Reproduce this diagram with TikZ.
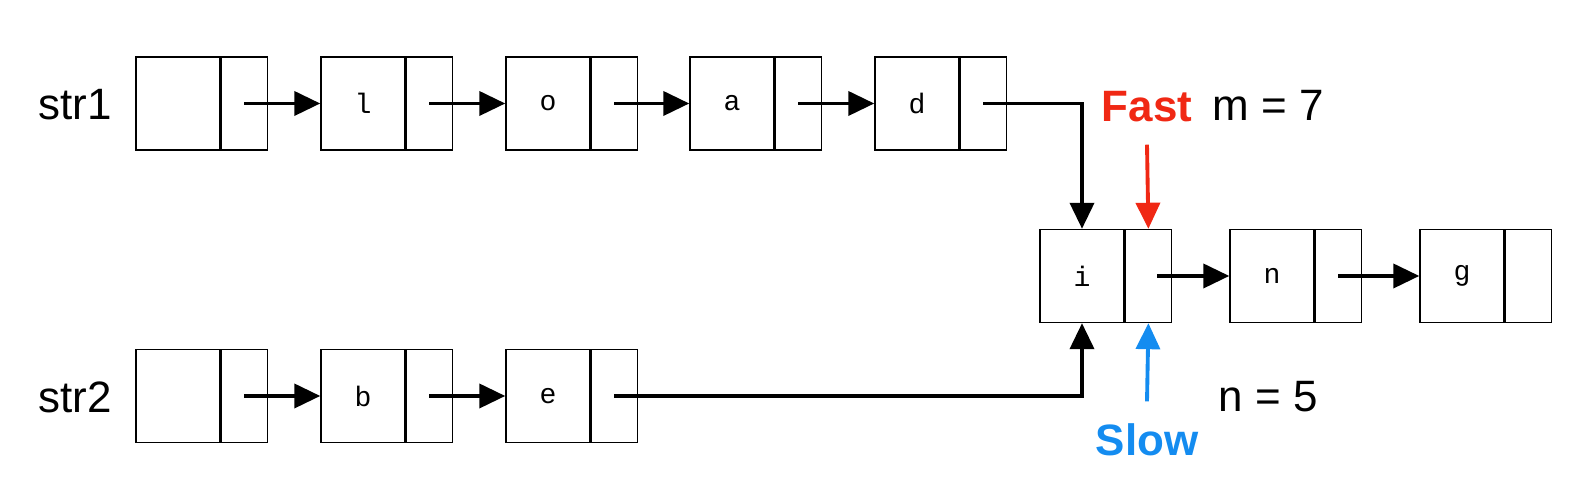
\documentclass[tikz,border=0pt]{standalone}
\usepackage{fontspec}
\setmainfont{Liberation Sans}
\setmonofont{Liberation Mono}
\usetikzlibrary{arrows.meta,positioning}
\definecolor{fastred}{RGB}{240,40,20}
\definecolor{slowblue}{RGB}{20,140,240}
\tikzset{
  data/.style={draw,line width=0.4pt,minimum width=0.84cm,minimum height=0.93cm,inner sep=0pt,font=\ttfamily\fontsize{8}{10}\selectfont},
  ptr/.style={draw,line width=0.4pt,minimum width=0.46cm,minimum height=0.93cm,inner sep=0pt},
  link/.style={line width=1.1pt,-{Triangle[length=2.6mm,width=2.4mm]}},
  lbl/.style={font=\fontsize{12.5}{15}\selectfont}
}
\begin{document}
\begin{tikzpicture}
\useasboundingbox (0,0) rectangle (15.73,4.89);
% first list
\node [data] (h1) at (1.78,3.855) {};
\node [ptr,right=0pt of h1] (h1p) {};
\node [data] (l) at (3.63,3.855) {l};
\node [ptr,right=0pt of l] (lp) {};
\node [data] (o) at (5.48,3.855) {o};
\node [ptr,right=0pt of o] (op) {};
\node [data] (a) at (7.32,3.855) {a};
\node [ptr,right=0pt of a] (ap) {};
\node [data] (d) at (9.17,3.855) {d};
\node [ptr,right=0pt of d] (dp) {};
% second list
\node [data] (h2) at (1.78,0.93) {};
\node [ptr,right=0pt of h2] (h2p) {};
\node [data] (b) at (3.63,0.93) {b};
\node [ptr,right=0pt of b] (bp) {};
\node [data] (e) at (5.48,0.93) {e};
\node [ptr,right=0pt of e] (ep) {};
% common tail
\node [data] (i) at (10.82,2.13) {i};
\node [ptr,right=0pt of i] (ip) {};
\node [data] (n) at (12.72,2.13) {n};
\node [ptr,right=0pt of n] (np) {};
\node [data] (g) at (14.62,2.13) {g};
\node [ptr,right=0pt of g] (gp) {};
% labels
\node [lbl] (str1) at (0.75,3.84) {str1};
\node [lbl] (str2) at (0.75,0.92) {str2};
\node [lbl] (mval) at (12.68,3.84) {m = 7};
\node [lbl] (nval) at (12.68,0.92) {n = 5};
\node [lbl,text=fastred] (fast) at (11.47,3.82) {\bfseries Fast};
\node [lbl,text=slowblue] (slow) at (11.47,0.49) {\bfseries Slow};
% links
\draw [link] (h1p.center) -- (l);
\draw [link] (lp.center) -- (o);
\draw [link] (op.center) -- (a);
\draw [link] (ap.center) -- (d);
\draw [link] (dp.center) -| (i.north);
\draw [link] (h2p.center) -- (b);
\draw [link] (bp.center) -- (e);
\draw [link] (ep.center) -| (i.south);
\draw [link] ([xshift=0.09cm]ip.center) -- (n);
\draw [link] (np.center) -- (g);
\draw [link,fastred] ([yshift=-0.1cm]fast.south) -- (ip.north);
\draw [link,slowblue] ([yshift=0.1cm]slow.north) -- (ip.south);
\end{tikzpicture}
\end{document}
